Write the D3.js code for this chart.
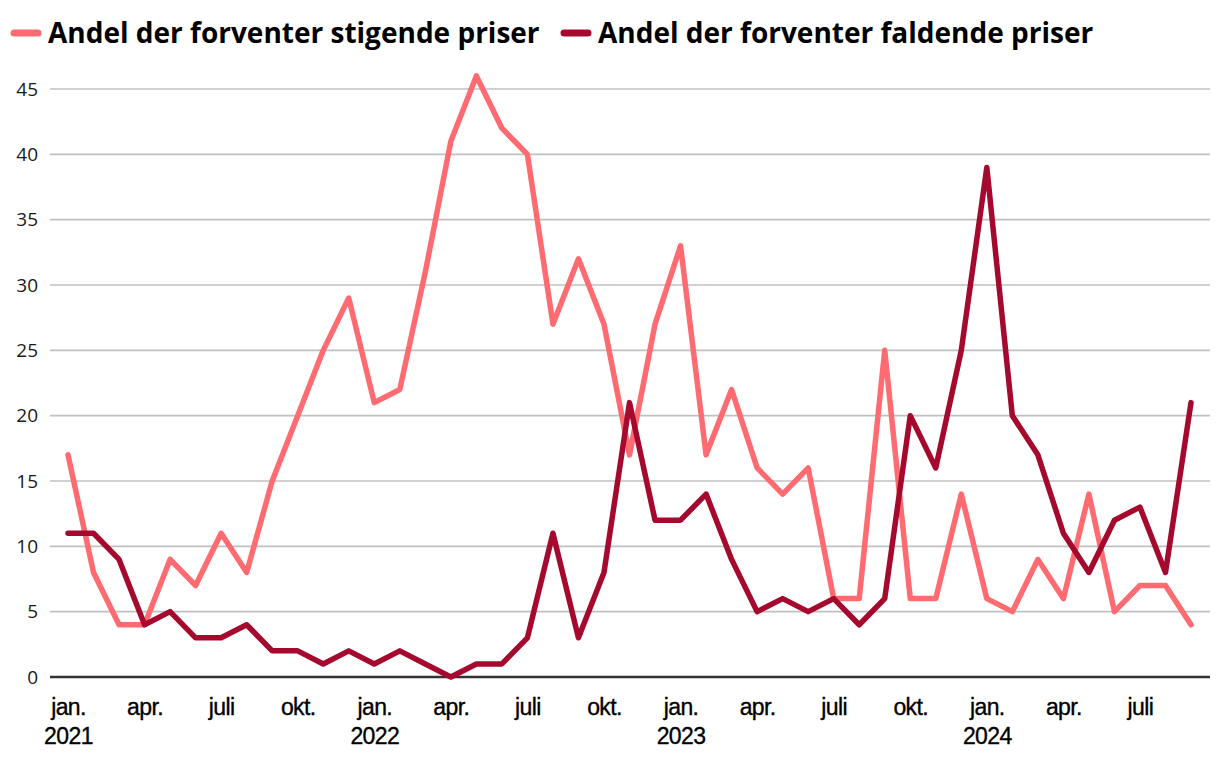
<!DOCTYPE html>
<html>
<head>
<meta charset="utf-8">
<script src="https://cdn.jsdelivr.net/npm/d3@7"></script>
<style>
  html, body { margin: 0; padding: 0; background: #fff; }
  svg { display: block; }
</style>
</head>
<body>
<svg id="chart" width="1220" height="760"></svg>
<script>
const months = ["jan.","feb.","mar.","apr.","maj","jun.","juli","aug.","sep.","okt.","nov.","dec."];
const years = [2021, 2022, 2023, 2024];
const seriesNames = ["Andel der forventer stigende priser", "Andel der forventer faldende priser"];
const seriesColors = ["#FF6B70", "#A50A2E"];
const stigende = [17,8,4,4,9,7,11,8,15,20,25,29,
                  21,22,31,41,46,42,40,27,32,27,17,27,
                  33,17,22,16,14,16,6,6,25,6,6,14,
                  6,5,9,6,14,5,7,7,4];
const faldende = [11,11,9,4,5,3,3,4,2,2,1,2,
                  1,2,1,0,1,1,3,11,3,8,21,12,
                  12,14,9,5,6,5,6,4,6,20,16,25,
                  39,20,17,11,8,12,13,8,21];
const yTicks = [0,5,10,15,20,25,30,35,40,45];
const xTickMonths = [0,3,6,9];

const idx = stigende.map((_, i) => i);
const svg = d3.select("#chart");

const x = d3.scalePoint().domain(idx).range([68, 1191]);
const y = d3.scaleLinear().domain([0, 45]).range([677, 89]);

// gridlines
const grid = svg.append("g");
grid.selectAll("line").data(yTicks.filter(d => d > 0)).join("line")
  .attr("x1", 50).attr("x2", 1210)
  .attr("y1", d => y(d)).attr("y2", d => y(d))
  .attr("stroke", "#c0c0c0").attr("stroke-width", 1.6);

// y axis labels
const yAxis = d3.axisLeft(y).tickValues(yTicks).tickSize(0).tickPadding(0);
const ya = svg.append("g").attr("transform", "translate(38,0)").call(yAxis);
ya.select(".domain").remove();
ya.selectAll("text").attr("font-family", "'Open Sans', sans-serif").attr("font-size", 19).attr("fill", "#1a1a1a");

// x axis labels
const tickIdx = idx.filter(i => xTickMonths.includes(i % 12));
const xAxis = d3.axisBottom(x).tickValues(tickIdx).tickSize(0).tickPadding(0)
  .tickFormat(i => months[i % 12]);
const xa = svg.append("g").attr("transform", "translate(0,715)").call(xAxis);
xa.select(".domain").remove();
const lblStyle = sel => sel.attr("font-family", "'Liberation Sans', Arial, sans-serif")
  .attr("font-size", 23).attr("fill", "#000").attr("stroke", "#000").attr("stroke-width", 0.35)
  .attr("letter-spacing", "-0.6");
xa.selectAll("text").attr("dy", null).attr("y", 0).call(lblStyle);
xa.selectAll(".tick").filter(i => i % 12 === 0).append("text")
  .attr("y", 29).attr("text-anchor", "middle")
  .call(lblStyle)
  .text(i => years[Math.floor(i / 12)]);

// zero baseline
svg.append("line").attr("x1", 50).attr("x2", 1210).attr("y1", y(0)).attr("y2", y(0))
  .attr("stroke", "#333").attr("stroke-width", 2.5);

// lines
const line = d3.line().x((d, i) => x(i)).y(d => y(d));
[stigende, faldende].forEach((s, k) => {
  svg.append("path").datum(s).attr("d", line)
    .attr("fill", "none").attr("stroke", seriesColors[k]).attr("stroke-width", 5.5)
    .attr("stroke-linejoin", "round").attr("stroke-linecap", "round");
});

// legend
const legendX = [12, 562];
seriesNames.forEach((name, k) => {
  const g = svg.append("g").attr("transform", `translate(${legendX[k]},33)`);
  g.append("line").attr("x1", 2).attr("x2", 26).attr("y1", 0).attr("y2", 0)
    .attr("stroke", seriesColors[k]).attr("stroke-width", 7).attr("stroke-linecap", "round");
  g.append("text").attr("x", 36).attr("y", 0).attr("dy", "0.35em")
    .attr("font-family", "'Open Sans', sans-serif").attr("font-weight", 700)
    .attr("font-size", 28).attr("fill", "#000").text(name);
});
</script>
</body>
</html>
